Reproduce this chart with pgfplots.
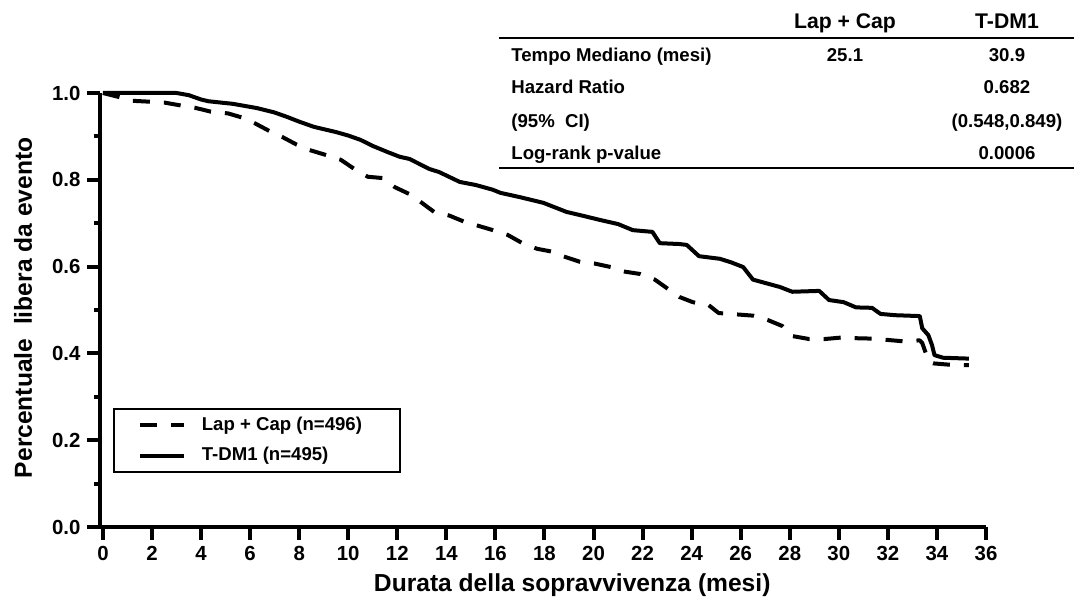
\documentclass[border=0pt]{standalone}
\usepackage{fontspec}
\setmainfont{Liberation Sans}
\usepackage{pgfplots}
\pgfplotsset{compat=1.18}

\begin{document}
\begin{tikzpicture}
% page frame: 1px of the reference = 0.5pt, axis corner at (0,0)
\path (-50pt,-34.5pt) rectangle (488.5pt,263.5pt);

\begin{axis}[
  at={(0,0)}, anchor=south west,
  scale only axis, width=443pt, height=217pt,
  xmin=-0.12, xmax=36, ymin=0, ymax=1,
  axis lines=left,
  axis line style={-, line width=2pt},
  clip=false,
  xtick={0,2,...,36},
  ytick={0,0.2,0.4,0.6,0.8,1.0},
  minor ytick={0.1,0.3,0.5,0.7,0.9},
  tick align=outside,
  major tick length=6.25pt, minor tick length=3pt,
  every tick/.style={black, line width=2pt},
  /pgf/number format/assume math mode=true,
  ticklabel style={font=\fontsize{10.2}{12}\selectfont\bfseries},
  yticklabel style={/pgf/number format/.cd, fixed, fixed zerofill, precision=1},
  xlabel={Durata della sopravvivenza (mesi)},
  xlabel style={at={(axis description cs:0.533,-0.1475)}, anchor=base,
    inner sep=0pt, font=\fontsize{12.3}{14}\selectfont\bfseries},
  ylabel={Percentuale\ \ libera da evento},
  ylabel style={at={(axis description cs:-0.0869,0.505)}, anchor=center,
    inner sep=0pt, font=\fontsize{12.3}{14}\selectfont\bfseries},
  legend style={at={(axis description cs:0.0147,0.274)}, anchor=north west,
    draw=black, line width=0.8pt, fill=white,
    inner xsep=12pt, inner ysep=2pt, row sep=3pt, /tikz/column sep=6pt,
    font=\fontsize{9.3}{11}\selectfont\bfseries,
    nodes={inner sep=2pt, text depth=0.15em}},
  legend cell align=left,
  legend image code/.code={\draw[#1, line width=2pt] (0pt,0pt) -- (22pt,0pt);},
  legend image post style={line width=2pt},
]

% Lap + Cap
\addplot[black, line width=2pt, line join=round, dash pattern=on 8.5pt off 7pt] coordinates {
  (0,1.0) (0.7,0.99) (1.2,0.982) (1.9,0.98) (2.5,0.978) (3.1,0.972)
  (3.75,0.966) (4.4,0.957) (5.1,0.953) (5.7,0.943) (6.2,0.93) (6.8,0.912)
  (7.3,0.899) (7.9,0.881) (8.4,0.869) (9.1,0.857) (9.7,0.846) (10.3,0.823)
  (10.8,0.807) (11.4,0.804) (11.9,0.783) (12.5,0.767) (13.0,0.747) (13.5,0.726)
  (14.1,0.718) (14.75,0.703) (15.3,0.694) (15.9,0.684) (16.5,0.673) (17.1,0.654)
  (17.7,0.641) (18.35,0.634) (18.75,0.624) (19.45,0.611) (20.05,0.607) (20.7,0.599)
  (21.2,0.589) (21.9,0.583) (22.5,0.570) (23.0,0.550) (23.5,0.530) (24.05,0.518)
  (24.7,0.511) (25.1,0.493) (25.8,0.490) (26.5,0.487) (27.1,0.477) (27.7,0.463)
  (28.1,0.440) (28.8,0.433) (29.4,0.433) (30.2,0.437) (30.7,0.435) (31.4,0.434)
  (32.0,0.431) (32.6,0.428) (33.3,0.430) (33.4,0.424) (33.55,0.400) (33.7,0.380)
  (33.85,0.377) (34.5,0.374) (35.3,0.373)
};
\addlegendentry{Lap + Cap (n=496)\kern5pt}

% T-DM1
\addplot[black, line width=2pt, line join=round] coordinates {
  (0,1.0) (3.0,1.0) (3.5,0.995) (4.0,0.985) (4.3,0.981) (5.3,0.975)
  (6.3,0.965) (7.0,0.955) (7.5,0.945) (8.0,0.934) (8.6,0.922) (9.5,0.910)
  (10.0,0.902) (10.5,0.892) (11.0,0.878) (11.6,0.864) (12.1,0.853) (12.5,0.848)
  (13.3,0.825) (13.7,0.818) (14.55,0.795) (15.2,0.788) (15.9,0.777) (16.2,0.770)
  (17.0,0.760) (17.95,0.747) (18.9,0.726) (19.5,0.718) (20.3,0.707) (21.0,0.698)
  (21.6,0.684) (22.4,0.680) (22.7,0.654) (23.5,0.652) (23.8,0.650) (24.3,0.624)
  (25.15,0.618) (25.6,0.610) (26.1,0.599) (26.5,0.570) (27.6,0.553) (28.1,0.542)
  (29.2,0.544) (29.6,0.523) (30.2,0.518) (30.7,0.506) (31.35,0.505) (31.7,0.491)
  (32.3,0.488) (33.3,0.486) (33.4,0.458) (33.65,0.442) (33.8,0.419) (33.9,0.396)
  (34.25,0.390) (35.3,0.388)
};
\addlegendentry{T-DM1 (n=495)}
\end{axis}

% summary table, top right
\begin{scope}[every node/.style={inner sep=0pt, font=\fontsize{9.3}{11}\selectfont\bfseries}]
  \node[anchor=base, font=\fontsize{10.6}{12}\selectfont\bfseries] at (372.5pt,249pt) {Lap + Cap};
  \node[anchor=base, font=\fontsize{10.6}{12}\selectfont\bfseries] at (453.5pt,249pt) {T-DM1};
  \draw[line width=1.35pt] (199.5pt,244.5pt) -- (487pt,244.5pt);
  \node[anchor=base west] at (205.5pt,232.5pt) {Tempo Mediano (mesi)};
  \node[anchor=base] at (372.5pt,232.5pt) {25.1};
  \node[anchor=base] at (453.5pt,232.5pt) {30.9};
  \node[anchor=base west] at (205.5pt,216.5pt) {Hazard Ratio};
  \node[anchor=base] at (453.5pt,216.5pt) {0.682};
  \node[anchor=base west] at (205.5pt,200pt) {(95\%\ \ CI)};
  \node[anchor=base] at (453.5pt,200pt) {(0.548,0.849)};
  \node[anchor=base west] at (205.5pt,183.5pt) {Log-rank p-value};
  \node[anchor=base] at (453.5pt,183.5pt) {0.0006};
  \draw[line width=1.35pt] (199.5pt,179.5pt) -- (487pt,179.5pt);
\end{scope}
\end{tikzpicture}
\end{document}
